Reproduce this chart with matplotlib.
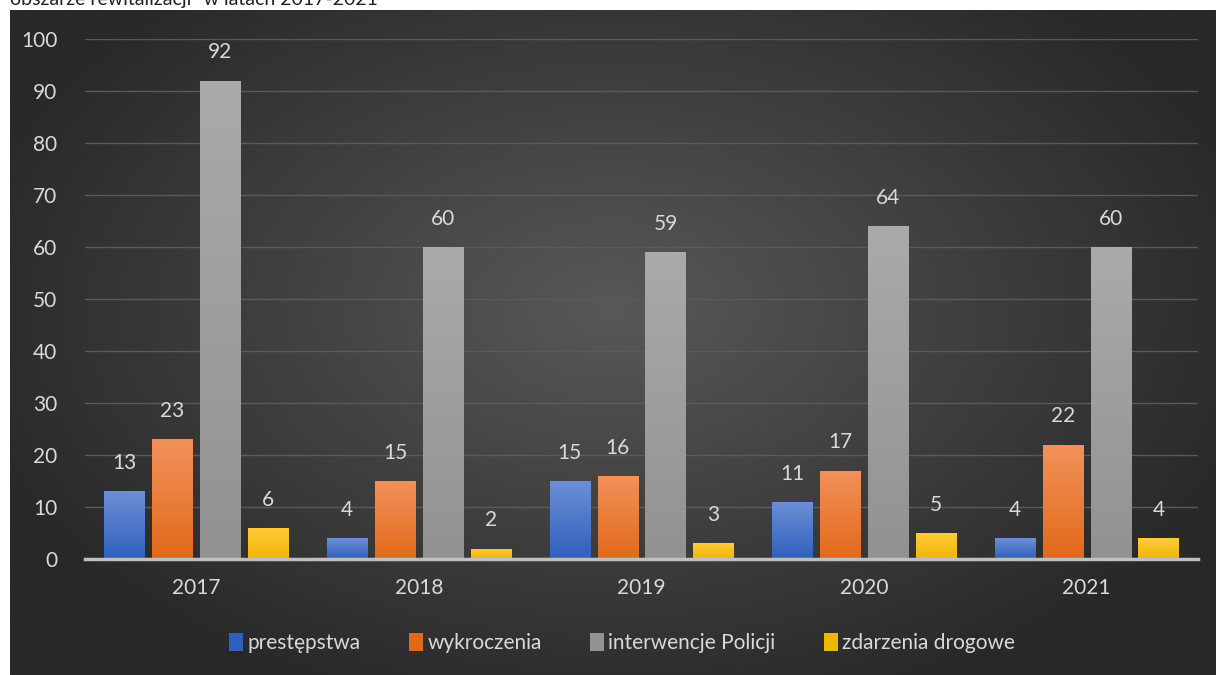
import numpy as np
import matplotlib.pyplot as plt
from matplotlib.patches import Patch

plt.rcParams['font.family'] = ['Lato', 'DejaVu Sans']

# dane
lata = ['2017', '2018', '2019', '2020', '2021']
przestepstwa = [13, 4, 15, 11, 4]
wykroczenia = [23, 15, 16, 17, 22]
interwencje = [92, 60, 59, 64, 60]
zdarzenia = [6, 2, 3, 5, 4]
serie = ['prestępstwa', 'wykroczenia', 'interwencje Policji', 'zdarzenia drogowe']
wartosci = [przestepstwa, wykroczenia, interwencje, zdarzenia]
# kolory: (gora, dol) gradientu
kolory = [('#6d8fd6', '#2f60bc'), ('#f2925b', '#e2691a'),
          ('#aaaaaa', '#929292'), ('#ffca3f', '#f0b700')]

W, H = 1216, 675
fig = plt.figure(figsize=(W / 100, H / 100), dpi=100)
fig.patch.set_facecolor('white')

# tytul (uciety u gory, jak w oryginale)
fig.text(10 / W, 1.0, 'obszarze rewitalizacji" w latach 2017-2021', fontsize=14,
         color='#222222', ha='left', va='center')

# tlo z gradientem radialnym
bg = fig.add_axes([10 / W, 0, (W - 10) / W, (H - 10) / H])
yy, xx = np.mgrid[0:1:300j, 0:1:540j]
r = np.sqrt(((xx - 0.5) / 0.75) ** 2 + ((yy - 0.45) / 0.85) ** 2)
r = np.clip(r / 0.75, 0, 1)
c0, c1 = 0x58, 0x28
g = (c0 + (c1 - c0) * r) / 255.0
img = np.dstack([g, g, g])
bg.imshow(img, aspect='auto', extent=[0, 1, 0, 1], origin='upper')
bg.set_axis_off()

ax = fig.add_axes([85 / W, (H - 559) / H, (1198 - 85) / W, (559 - 39) / H])
ax.set_facecolor('none')
x = np.arange(len(lata))
szer = 0.18
krok = 0.215
for i, (nazwa, vals) in enumerate(zip(serie, wartosci)):
    pos = x + (i - 1.5) * krok
    bars = ax.bar(pos, vals, width=szer, color=kolory[i][1], zorder=3)
    grad = np.linspace(0, 1, 100).reshape(-1, 1)
    top = np.array(plt.matplotlib.colors.to_rgb(kolory[i][0]))
    bot = np.array(plt.matplotlib.colors.to_rgb(kolory[i][1]))
    for b, v in zip(bars, vals):
        im_arr = top[None, None, :] * (1 - grad[:, :, None]) + bot[None, None, :] * grad[:, :, None]
        im = ax.imshow(im_arr, aspect='auto', zorder=3.5,
                       extent=[b.get_x(), b.get_x() + b.get_width(), 0, v], origin='upper')
        im.set_clip_path(b)
        ax.text(b.get_x() + b.get_width() / 2, v + 3.5, str(v), ha='center', va='bottom',
                color='#d9d9d9', fontsize=15, zorder=5)

ax.set_xlim(-0.5, len(lata) - 0.5)
ax.set_ylim(0, 100)
ax.set_yticks(range(0, 101, 10))
ax.set_xticks(x)
ax.set_xticklabels(lata)
ax.tick_params(axis='y', length=0, pad=20, labelsize=15, labelcolor='#d9d9d9')
ax.tick_params(axis='x', length=0, pad=14, labelsize=15, labelcolor='#d9d9d9')
ax.grid(axis='y', color='#5a5a5a', linewidth=1, zorder=1)
for s in ['top', 'right', 'left']:
    ax.spines[s].set_visible(False)
ax.spines['bottom'].set_color('#bfbfbf')
ax.spines['bottom'].set_linewidth(2.5)
ax.spines['bottom'].set_zorder(6)

uchwyty = [Patch(facecolor=kolory[i][1], label=serie[i]) for i in range(4)]
leg = fig.legend(handles=uchwyty, loc='center', bbox_to_anchor=(622 / W, 32 / H), ncol=4,
                 frameon=False, fontsize=15, handlelength=0.7, handleheight=1.0,
                 handletextpad=0.2, columnspacing=2.3)
for t in leg.get_texts():
    t.set_color('#d9d9d9')

fig.savefig('out.png', dpi=100)
